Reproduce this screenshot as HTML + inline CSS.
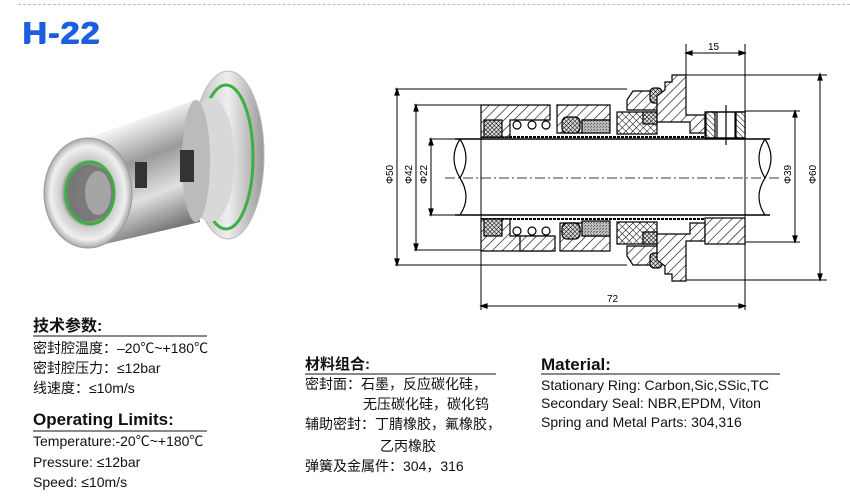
<!DOCTYPE html>
<html><head><meta charset="utf-8"><style>
body{margin:0;width:850px;height:502px;background:#fff;position:relative;overflow:hidden;font-family:"Liberation Sans","Noto Sans CJK SC",sans-serif;color:#111}
.t{position:absolute;white-space:nowrap;line-height:1}
.h{font-weight:bold;font-size:17px}
.r{font-size:14px}
.u{position:absolute;height:2px;background:#888}
</style></head><body>
<div style="position:absolute;left:18px;top:4px;width:832px;border-top:1px dashed #bbb"></div>
<div class="t" style="left:22px;top:17px;font-size:31px;font-weight:900;color:#1b5fe0;letter-spacing:1px;font-family:'Liberation Sans',sans-serif;transform:scaleX(1.1);transform-origin:left;text-shadow:1px 0 #1b5fe0,0 1px #1b5fe0">H-22</div>

<svg style="position:absolute;left:0;top:0" width="850" height="502">
<defs>
<linearGradient id="m" x1="0" y1="0" x2="0.3" y2="1"><stop offset="0" stop-color="#888"/><stop offset=".25" stop-color="#f2f2f2"/><stop offset=".5" stop-color="#9a9a9a"/><stop offset=".75" stop-color="#e0e0e0"/><stop offset="1" stop-color="#777"/></linearGradient>
<linearGradient id="fl" x1="0" y1="0" x2="1" y2="0"><stop offset="0" stop-color="#bbb"/><stop offset=".5" stop-color="#eee"/><stop offset="1" stop-color="#999"/></linearGradient>
<radialGradient id="f" cx=".5" cy=".5" r=".5"><stop offset=".5" stop-color="#777"/><stop offset=".62" stop-color="#ccc"/><stop offset=".85" stop-color="#f0f0f0"/><stop offset="1" stop-color="#aaa"/></radialGradient>
<pattern id="hat" width="7" height="7" patternUnits="userSpaceOnUse" patternTransform="rotate(45)"><rect width="7" height="7" fill="#fff"/><line x1="0" y1="0" x2="0" y2="7" stroke="#000" stroke-width="1.2"/></pattern>
<pattern id="hat2" width="4" height="4" patternUnits="userSpaceOnUse" patternTransform="rotate(-45)"><rect width="4" height="4" fill="#fff"/><line x1="0" y1="0" x2="0" y2="4" stroke="#000" stroke-width="1"/></pattern>
<pattern id="x" width="5" height="5" patternUnits="userSpaceOnUse" patternTransform="rotate(45)"><rect width="5" height="5" fill="#fff"/><path d="M0 0V5M0 0H5" stroke="#000" stroke-width="1"/></pattern>
<pattern id="xx" width="3" height="3" patternUnits="userSpaceOnUse" patternTransform="rotate(45)"><rect width="3" height="3" fill="#ddd"/><path d="M0 0V3M0 0H3" stroke="#000" stroke-width="1"/></pattern>
<pattern id="g" width="3" height="3" patternUnits="userSpaceOnUse"><rect width="3" height="3" fill="#bbb"/><rect width="1" height="1" fill="#555"/><rect x="2" y="1" width="1" height="1" fill="#777"/></pattern>
</defs>
<!-- photo -->
<g>
<ellipse cx="228" cy="155" rx="36" ry="84" fill="url(#fl)" stroke="#bbb"/>
<ellipse cx="226" cy="157" rx="27" ry="72" fill="none" stroke="#3cb043" stroke-width="3"/>
<ellipse cx="210" cy="160" rx="25" ry="62" fill="#d8d8d8"/>
<path d="M88 138 L195 100 L200 222 L88 248 Z" fill="url(#m)"/>
<ellipse cx="196" cy="161" rx="14" ry="61" fill="#bbb"/>
<path d="M135 162h12v26h-12zM180 150h14v32h-14z" fill="#333"/>
<ellipse cx="88" cy="193" rx="44" ry="55" fill="url(#f)" stroke="#999"/>
<ellipse cx="90" cy="193" rx="24" ry="31" fill="none" stroke="#3cb043" stroke-width="3"/>
<ellipse cx="94" cy="193" rx="19" ry="27" fill="#7a7a7a"/>
<ellipse cx="98" cy="193" rx="13" ry="22" fill="#a5a5a5"/>
</g>
<!-- drawing -->
<g stroke="#000" stroke-width="1.2" fill="none">
<path d="M686 44V115M745 44V310M481 105V310M395 89H627M414 105H481M429 139H455M429 215H455M414 250H481M395 265H627M686 75H827M686 280H827M745 111H800M745 242H800" stroke-width="1"/>
<path d="M397 91V263M416 107V248M431 141V213M795 113V240M820 76V278M688 53H743M483 306H743" stroke-width="1"/>
<path d="M397 89l-2 6h4zM397 265l-2-6h4zM416 105l-2 6h4zM416 250l-2-6h4zM431 139l-2 6h4zM431 215l-2-6h4zM795 111l-2 6h4zM795 242l-2-6h4zM820 74l-2 6h4zM820 280l-2-6h4zM686 53l6-2v4zM745 53l-6-2v4zM481 306l6-2v4zM745 306l-6-2v4z" fill="#000"/>
<path d="M455 139H770M455 215H770" stroke-width="1.5"/>
<path d="M460 139Q448 158 460 178Q472 197 460 215M460 139Q472 158 460 178M765 178Q753 197 765 215M765 178Q777 158 765 139M765 178Q753 158 765 139"/>
<path d="M445 178H780" stroke-dasharray="10 3 2 3" stroke-width=".8"/>
<path d="M481 137H705M481 219H705" stroke-width="2" stroke-dasharray="3 1"/>
<path d="M481 105H550V120H510V137H481Z" fill="url(#hat)"/>
<rect x="484" y="120" width="18" height="17" fill="url(#xx)"/>
<circle cx="517" cy="125" r="4" fill="#fff"/><circle cx="532" cy="125" r="4" fill="#fff"/><circle cx="546" cy="125" r="4" fill="#fff"/>
<path d="M557 105H610V120H583V133H557Z" fill="url(#hat)"/>
<rect x="562" y="117" width="18" height="16" rx="5" fill="url(#xx)"/>
<rect x="582" y="120" width="28" height="13" fill="url(#g)"/>
<rect x="617" y="112" width="40" height="22" fill="url(#x)"/>
<rect x="643" y="112" width="14" height="12" fill="url(#xx)"/>
<path d="M627 100L633 91H657V110H627Z" fill="url(#hat)"/>
<rect x="650" y="88" width="12" height="15" rx="4" fill="url(#xx)"/>
<path d="M657 122V96L665 90V82H672V75H686V115H705V133H690V122Z" fill="url(#hat)"/>
<path d="M705 112H745V138H705Z" fill="#fff"/>
<rect x="706" y="112" width="9" height="26" fill="url(#hat2)"/><rect x="736" y="112" width="9" height="26" fill="url(#hat2)"/>
<path d="M706 112H745M706 138H745M717 112V138M735 112V138M726 105V145"/>
<path d="M481 251H550V236H510V219H481Z" fill="url(#hat)"/>
<rect x="484" y="219" width="18" height="17" fill="url(#xx)"/>
<path d="M520 251H555V236H520Z" fill="url(#hat)"/>
<circle cx="517" cy="231" r="4" fill="#fff"/><circle cx="532" cy="231" r="4" fill="#fff"/><circle cx="546" cy="231" r="4" fill="#fff"/>
<path d="M560 251H610V236H583V223H560Z" fill="url(#hat)"/>
<rect x="562" y="223" width="18" height="16" rx="5" fill="url(#xx)"/>
<rect x="582" y="221" width="28" height="15" fill="url(#g)"/>
<rect x="617" y="222" width="40" height="22" fill="url(#x)"/>
<rect x="643" y="232" width="14" height="12" fill="url(#xx)"/>
<path d="M627 256L633 265H657V246H627Z" fill="url(#hat)"/>
<rect x="650" y="253" width="12" height="15" rx="4" fill="url(#xx)"/>
<path d="M657 234V260L665 266V274H672V281H686V241H705V223H690V234Z" fill="url(#hat)"/>
<rect x="705" y="218" width="40" height="26" fill="url(#hat)"/>
</g>
<g font-family="Liberation Sans,sans-serif" font-size="10" fill="#000">
<text x="708" y="50">15</text><text x="607" y="302">72</text>
<text transform="translate(393 184) rotate(-90)">Φ50</text>
<text transform="translate(412 184) rotate(-90)">Φ42</text>
<text transform="translate(427 184) rotate(-90)">Φ22</text>
<text transform="translate(791 184) rotate(-90)">Φ39</text>
<text transform="translate(816 184) rotate(-90)">Φ60</text>
</g>
</svg>

<div class="t h" style="left:33px;top:319px;font-size:16px">技术参数:</div>
<div class="u" style="left:33px;top:335px;width:174px"></div>
<div class="t r" style="left:33px;top:341px">密封腔温度：–20℃~+180℃</div>
<div class="t r" style="left:33px;top:361px">密封腔压力：≤12bar</div>
<div class="t r" style="left:33px;top:381px">线速度：≤10m/s</div>
<div class="t h" style="left:33px;top:411px">Operating Limits:</div>
<div class="u" style="left:33px;top:430px;width:174px"></div>
<div class="t r" style="left:33px;top:434px">Temperature:-20℃~+180℃</div>
<div class="t r" style="left:33px;top:455px">Pressure: ≤12bar</div>
<div class="t r" style="left:33px;top:475px">Speed: ≤10m/s</div>

<div class="t h" style="left:305px;top:357px;font-size:15px">材料组合:</div>
<div class="u" style="left:305px;top:373px;width:191px"></div>
<div class="t r" style="left:305px;top:377px">密封面：石墨，反应碳化硅，</div>
<div class="t r" style="left:363px;top:397px">无压碳化硅，碳化钨</div>
<div class="t r" style="left:305px;top:417px">辅助密封：丁腈橡胶，氟橡胶，</div>
<div class="t r" style="left:380px;top:439px">乙丙橡胶</div>
<div class="t r" style="left:305px;top:459px">弹簧及金属件：304，316</div>

<div class="t h" style="left:541px;top:356px">Material:</div>
<div class="u" style="left:541px;top:373px;width:239px"></div>
<div class="t r" style="left:541px;top:378px">Stationary Ring: Carbon,Sic,SSic,TC</div>
<div class="t r" style="left:541px;top:396px">Secondary Seal: NBR,EPDM, Viton</div>
<div class="t r" style="left:541px;top:415px">Spring and Metal Parts: 304,316</div>
</body></html>
